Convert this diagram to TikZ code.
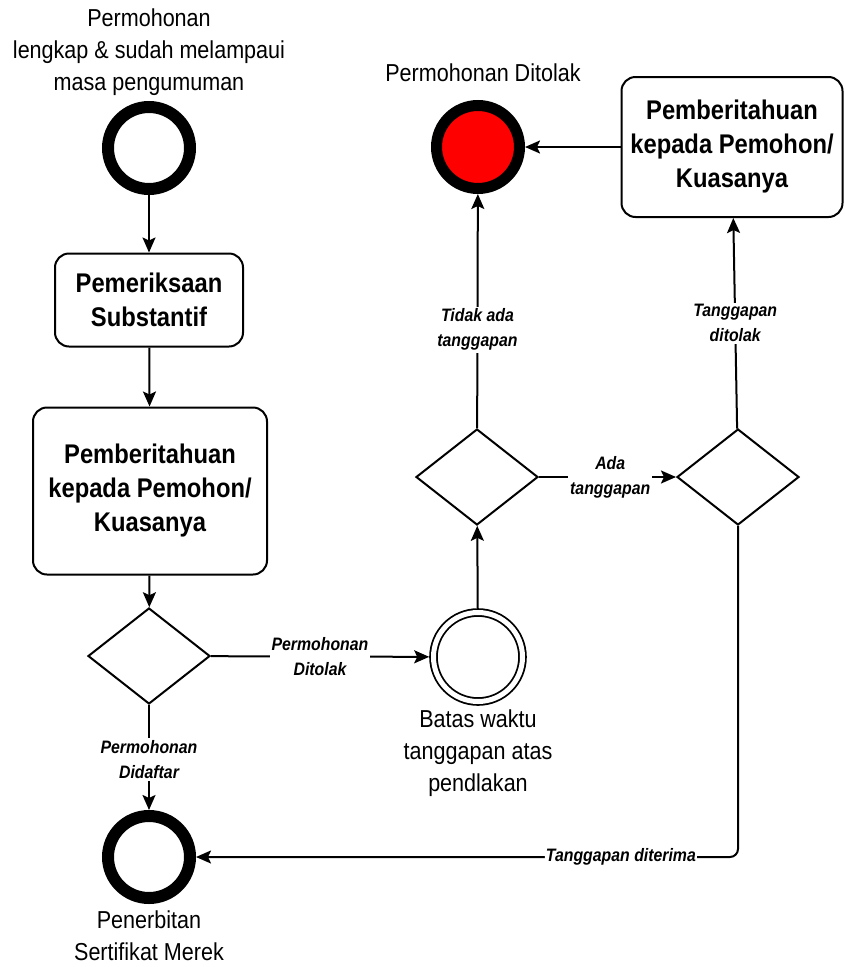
\documentclass[tikz,border=0pt]{standalone}
\usepackage{fontspec}
\setmainfont{Liberation Sans}[FakeStretch=0.88]
\usetikzlibrary{shapes.geometric,arrows.meta}
\begin{document}
\begin{tikzpicture}[x=1pt,y=-1pt,
  conn/.style={line width=2pt,-{Stealth[length=15pt,width=13pt,inset=3pt]}},
  plain/.style={line width=2pt},
  eventring/.style={circle,draw,line width=12pt,minimum size=82pt,inner sep=0pt,outer sep=6pt},
  rejectev/.style={circle,draw,fill=red,line width=11pt,minimum size=83pt,inner sep=0pt,outer sep=5.5pt},
  timerev/.style={circle,draw,line width=1.8pt,double,double distance=5pt,minimum size=89pt,inner sep=0pt,outer sep=4.3pt},
  task/.style={draw,rounded corners=14pt,line width=2pt,align=center,inner sep=0pt,
    font=\fontsize{27}{34}\selectfont\bfseries},
  gate/.style={diamond,draw,line width=2pt,minimum width=122pt,minimum height=96pt,inner sep=0pt,outer sep=1pt},
  caption/.style={align=center,inner sep=0pt,font=\fontsize{24.5}{32}\selectfont},
  guard/.style={fill=white,align=center,inner sep=2pt,font=\fontsize{18}{25}\selectfont\bfseries\itshape},
]
\useasboundingbox (0,0) rectangle (844,967);

% start and end events
\node[eventring] (start) at (149,148) {};
\node[caption] (starttxt) at (149,52) {Permohonan\\lengkap \& sudah melampaui\\masa pengumuman};
\node[eventring] (finish) at (149,857) {};
\node[caption] (finishtxt) at (149,936) {Penerbitan\\Sertifikat Merek};

% tasks
\node[task,minimum width=188pt,minimum height=93pt] (exam) at (149,300) {Pemeriksaan\\Substantif};
\node[task,minimum width=234pt,minimum height=167pt] (notice) at (150,491) {Pemberitahuan\\kepada Pemohon/\\Kuasanya};
\node[task,minimum width=221pt,minimum height=140pt] (notice2) at (732,147) {Pemberitahuan\\kepada Pemohon/\\Kuasanya};

% gateways
\node[gate] (g1) at (149,656) {};
\node[gate] (g2) at (477,477) {};
\node[gate] (g3) at (738,477) {};

% rejection end event and response deadline
\node[rejectev] (reject) at (478,147) {};
\node[caption] (rejecttxt) at (483,73) {Permohonan Ditolak};
\node[timerev] (deadline) at (478,657) {};
\node[caption] (deadlinetxt) at (478,753) {Batas waktu\\tanggapan atas\\pendlakan};

% flows
\draw[conn] (start) -- (exam);
\draw[conn] (exam) -- (notice);
\draw[conn] (notice) -- (g1);
\draw[conn] (g1) -- node[guard] {Permohonan\\Ditolak} (deadline);
\draw[conn] (g1) -- node[guard,pos=0.52] {Permohonan\\Didaftar} (finish);
\draw[conn] (deadline) -- (g2);
\draw[conn] (g2) -- node[guard,pos=0.42] {Tidak ada\\tanggapan} (reject);
\draw[conn] (g2) -- node[guard,pos=0.52] {Ada\\tanggapan} (g3);
\draw[conn] (g3) -- node[guard,pos=0.5] {Tanggapan\\ditolak} (notice2);
\draw[conn] (notice2) -- (reject);
\draw[conn,rounded corners=8pt] (g3.south) |- node[guard,pos=0.608,inner sep=1pt] {Tanggapan diterima} (finish);
\end{tikzpicture}
\end{document}
